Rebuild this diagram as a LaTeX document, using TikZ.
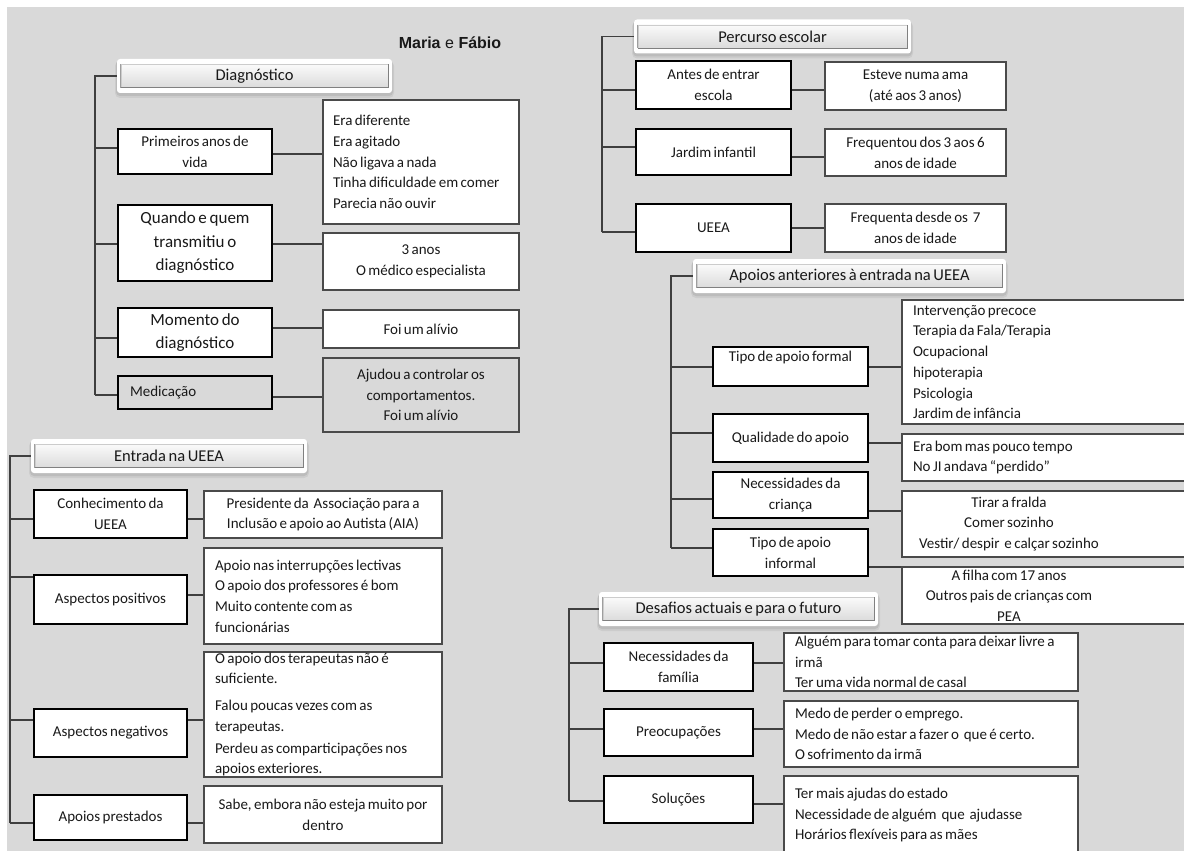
\documentclass[tikz,border=0pt]{standalone}
\usepackage{fontspec}
\setmainfont{Carlito}
\newfontfamily\titlefont{Liberation Sans}

\definecolor{bggray}{HTML}{D9D9D9}
\definecolor{linegray}{HTML}{3F3F3F}
\definecolor{boxedge}{HTML}{4A4A4A}

% fonts with narrow word spaces
\newcommand\tightsp{\spaceskip=0.16em\relax}
\newcommand\smalltxt{\fontsize{15}{20.7}\selectfont\tightsp}
\newcommand\bigtxt{\fontsize{17}{23.5}\selectfont\tightsp}
\newcommand\hdrtxt{\fontsize{16.5}{20}\selectfont\spaceskip=0.18em\relax}

\tikzset{
  base/.style={font=\smalltxt, text=black!90, inner sep=0pt, execute at begin node=\tightsp},
  catbox/.style={base, draw=black, line width=2.2pt, fill=white, align=center},
  bigcat/.style={catbox, font=\bigtxt},
  infobox/.style={base, draw=boxedge, line width=1.2pt, fill=white},
  conn/.style={draw=linegray, line width=1.3pt},
  hdrbar/.style={base, font=\hdrtxt, minimum height=23pt,
    top color=white!98!black, bottom color=white!86!black,
    draw=white!80!black, line width=.5pt},
  hdredge/.style={draw=white!50!black, line width=1pt},
}

% section header: name, centre x, centre y, bar width, text
\newcommand\hdrbox[5]{%
  \fill[black,opacity=.06,rounded corners=5pt] ({#2-#4/2-6},{#3-15}) rectangle ({#2+#4/2+6},{#3+22});
  \fill[black,opacity=.08,rounded corners=4pt] ({#2-#4/2-5},{#3-16}) rectangle ({#2+#4/2+5},{#3+20});
  \fill[white,rounded corners=3pt] ({#2-#4/2-4},{#3-17}) rectangle ({#2+#4/2+4},{#3+17});
  \node[hdrbar, minimum width=#4pt] (#1) at (#2,#3) {#5};
  \draw[hdredge] (#1.south west) -- (#1.south east) -- (#1.north east);
  \draw[hdredge, draw=white!62!black] (#1.north west) -- (#1.south west);
}
% horizontal link at a given height
\newcommand\hlink[3]{\draw[conn] (#1 |- 0,#3) -- (#2 |- 0,#3);}
% centred line inside a left-set box
\newcommand\ctrline[1]{\makebox[192pt][c]{#1}}

\begin{document}
\begin{tikzpicture}[x=1pt,y=-1pt]
\useasboundingbox (0,0) rectangle (1184,851);
\clip (0,0) rectangle (1184,851);
\fill[bggray] (7,7) rectangle (1190,860);

\node[font=\titlefont\fontsize{16}{19}\selectfont, text=black!90] (title) at (450,43) {\textbf{Maria} e \textbf{Fábio}};

% ---------------- Diagnóstico ----------------
\hdrbox{hD}{254.5}{76}{267}{Diagnóstico}
\coordinate (tD) at (95,0);
\node[catbox, minimum width=154pt, minimum height=45pt] (prim) at (195,151.5) {Primeiros anos de\\vida};
\node[bigcat, minimum width=154pt, minimum height=76pt] (quem) at (195,243) {Quando e quem\\transmitiu o\\diagnóstico};
\node[bigcat, minimum width=154pt, minimum height=49pt] (mom) at (195,332.5) {Momento do\\diagnóstico};
\node[catbox, fill=bggray, align=left, text width=130pt, inner xsep=12pt, minimum height=33pt] (med) at (195,392.5) {Medicação};

\node[infobox, align=left, inner xsep=10pt, text width=176pt, minimum height=124pt] (primd) at (421,162)
  {Era diferente\\Era agitado\\Não ligava a nada\\Tinha dificuldade em comer\\Parecia não ouvir};
\node[infobox, align=center, minimum width=196pt, minimum height=57pt] (quemd) at (421,261.5) {3 anos\\O médico especialista};
\node[infobox, align=center, minimum width=196pt, minimum height=38pt] (momd) at (421,329) {Foi um alívio};
\node[infobox, fill=bggray, align=center, minimum width=196pt, minimum height=74pt] (medd) at (421,395)
  {Ajudou a controlar os\\comportamentos.\\Foi um alívio};

\draw[conn] ([xshift=-4pt]hD.west) -| (tD |- 0,395);
\hlink{tD}{prim.west}{148}
\hlink{tD}{quem.west}{244}
\hlink{tD}{mom.west}{338}
\hlink{tD}{med.west}{395}
\hlink{prim.east}{primd.west}{154}
\hlink{quem.east}{quemd.west}{244}
\hlink{mom.east}{momd.west}{328}
\hlink{med.east}{medd.west}{397}

% ---------------- Entrada na UEEA ----------------
\hdrbox{hE}{169}{456}{268}{Entrada na UEEA}
\coordinate (tE) at (10,0);
\node[catbox, minimum width=153pt, minimum height=48pt] (conh) at (110.5,514) {Conhecimento da\\UEEA};
\node[catbox, minimum width=153pt, minimum height=49pt] (posi) at (110.5,599.5) {Aspectos positivos};
\node[catbox, minimum width=153pt, minimum height=48pt] (nega) at (110.5,733) {Aspectos negativos};
\node[catbox, minimum width=153pt, minimum height=45pt] (pres) at (110.5,817.5) {Apoios prestados};

\node[infobox, align=center, minimum width=238pt, minimum height=47pt] (conhd) at (323,514.5)
  {Presidente da\ \ Associação para a\\Inclusão e apoio ao Autista (AIA)};
\node[infobox, align=left, inner xsep=11pt, text width=216pt, minimum height=96pt] (posid) at (323,596)
  {Apoio nas interrupções lectivas\\O apoio dos professores é bom\\Muito contente com as\\funcionárias};
\node[infobox, align=left, inner xsep=11pt, text width=216pt, minimum height=125pt] (negad) at (323,714.5)
  {O apoio dos terapeutas não é\\suficiente.\\[6pt]Falou poucas vezes com as\\terapeutas.\\[1pt]Perdeu as comparticipações nos\\apoios exteriores.};
\node[infobox, align=center, minimum width=238pt, minimum height=57pt] (presd) at (323,814.5)
  {Sabe, embora não esteja muito por\\dentro};

\draw[conn] ([xshift=-4pt]hE.west) -| (tE |- 0,823);
\hlink{tE}{conh.west}{519}
\hlink{tE}{posi.west}{577}
\hlink{tE}{nega.west}{720}
\hlink{tE}{pres.west}{823}
\hlink{conh.east}{conhd.west}{519}
\hlink{posi.east}{posid.west}{595}
\hlink{nega.east}{negad.west}{720}
\hlink{pres.east}{presd.west}{823}

% ---------------- Percurso escolar ----------------
\hdrbox{hP}{772.5}{36.5}{269}{Percurso escolar}
\coordinate (tP) at (602,0);
\node[catbox, minimum width=155pt, minimum height=48pt] (antes) at (713.5,85) {Antes de entrar\\escola};
\node[catbox, minimum width=155pt, minimum height=46pt] (jard) at (713.5,152) {Jardim infantil};
\node[catbox, minimum width=155pt, minimum height=48pt] (ueea) at (713.5,228) {UEEA};

\node[infobox, align=center, minimum width=181pt, minimum height=48pt] (antesd) at (915.5,86) {Esteve numa ama\\(até aos 3 anos)};
\node[infobox, align=center, minimum width=181pt, minimum height=47pt] (jardd) at (915.5,152.5) {Frequentou dos 3 aos 6\\anos de idade};
\node[infobox, align=center, minimum width=181pt, minimum height=48pt] (ueead) at (915.5,228) {Frequenta desde os\ \ 7\\anos de idade};

\draw[conn] ([xshift=-4pt]hP.west) -| (tP |- 0,232);
\hlink{tP}{antes.west}{90}
\hlink{tP}{jard.west}{147}
\hlink{tP}{ueea.west}{232}
\hlink{antes.east}{antesd.west}{90}
\hlink{jard.east}{jardd.west}{157}
\hlink{ueea.east}{ueead.west}{228}

% ---------------- Apoios anteriores ----------------
\hdrbox{hA}{849.5}{276}{305}{Apoios anteriores à entrada na UEEA}
\coordinate (tA) at (671,0);
\node[catbox, minimum width=155pt, minimum height=39pt] (tipf) at (790.5,366.5) {Tipo de apoio formal\\\mbox{}};
\node[catbox, minimum width=155pt, minimum height=48pt] (qual) at (790.5,438) {Qualidade do apoio};
\node[catbox, minimum width=155pt, minimum height=46pt] (necc) at (790.5,495) {Necessidades da\\criança};
\node[catbox, minimum width=155pt, minimum height=47pt] (tipi) at (790.5,552.5) {Tipo de apoio\\informal};

\node[infobox, align=left, inner xsep=11pt, text width=272pt, minimum height=124pt] (tipfd) at (1049,362)
  {Intervenção precoce\\Terapia da Fala/Terapia\\Ocupacional\\hipoterapia\\Psicologia\\Jardim de infância};
\node[infobox, align=left, inner xsep=11pt, text width=272pt, minimum height=47pt] (quald) at (1049,457.5)
  {Era bom mas pouco tempo\\No JI andava “perdido”};
\node[infobox, align=left, inner xsep=11pt, text width=272pt, minimum height=66pt] (neccd) at (1049,524)
  {\ctrline{Tirar a fralda}\\\ctrline{Comer sozinho}\\\ctrline{Vestir/ despir\ \ e calçar sozinho}};
\node[infobox, align=left, inner xsep=11pt, text width=272pt, minimum height=57pt] (tipid) at (1049,595.5)
  {\ctrline{A filha com 17 anos}\\\ctrline{Outros pais de crianças com}\\\ctrline{PEA}};

\draw[conn] ([xshift=-4pt]hA.west) -| (tA |- 0,548);
\hlink{tA}{tipf.west}{367}
\hlink{tA}{qual.west}{433}
\hlink{tA}{necc.west}{499}
\hlink{tA}{tipi.west}{548}
\hlink{tipf.east}{tipfd.west}{367}
\hlink{qual.east}{quald.west}{443}
\hlink{necc.east}{neccd.west}{511}
\hlink{tipi.east}{tipid.west}{567}

% ---------------- Desafios ----------------
\hdrbox{hF}{738.5}{609}{271}{Desafios actuais e para o futuro}
\coordinate (tF) at (569,0);
\node[catbox, minimum width=149pt, minimum height=48pt] (necf) at (678.5,667) {Necessidades da\\família};
\node[catbox, minimum width=149pt, minimum height=47pt] (preo) at (678.5,732.5) {Preocupações};
\node[catbox, minimum width=149pt, minimum height=47pt] (solu) at (678.5,799.5) {Soluções};

\node[infobox, align=left, inner xsep=11pt, text width=272pt, minimum height=58pt] (necfd) at (931,662)
  {\mbox{Alguém para tomar conta para deixar livre a}\\irmã\\Ter uma vida normal de casal};
\node[infobox, align=left, inner xsep=11pt, text width=272pt, minimum height=66pt] (preod) at (931,734)
  {Medo de perder o emprego.\\Medo de não estar a fazer o\ \ que é certo.\\O sofrimento da irmã};
\node[infobox, align=left, inner xsep=11pt, text width=272pt, minimum height=78pt] (solud) at (931,815)
  {Ter mais ajudas do estado\\Necessidade de alguém\ \ que\ \ ajudasse\\Horários flexíveis para as mães};

\draw[conn] ([xshift=-4pt]hF.west) -| (tF |- 0,801);
\hlink{tF}{necf.west}{663}
\hlink{tF}{preo.west}{729}
\hlink{tF}{solu.west}{801}
\hlink{necf.east}{necfd.west}{663}
\hlink{preo.east}{preod.west}{729}
\hlink{solu.east}{solud.west}{804}
\end{tikzpicture}
\end{document}
